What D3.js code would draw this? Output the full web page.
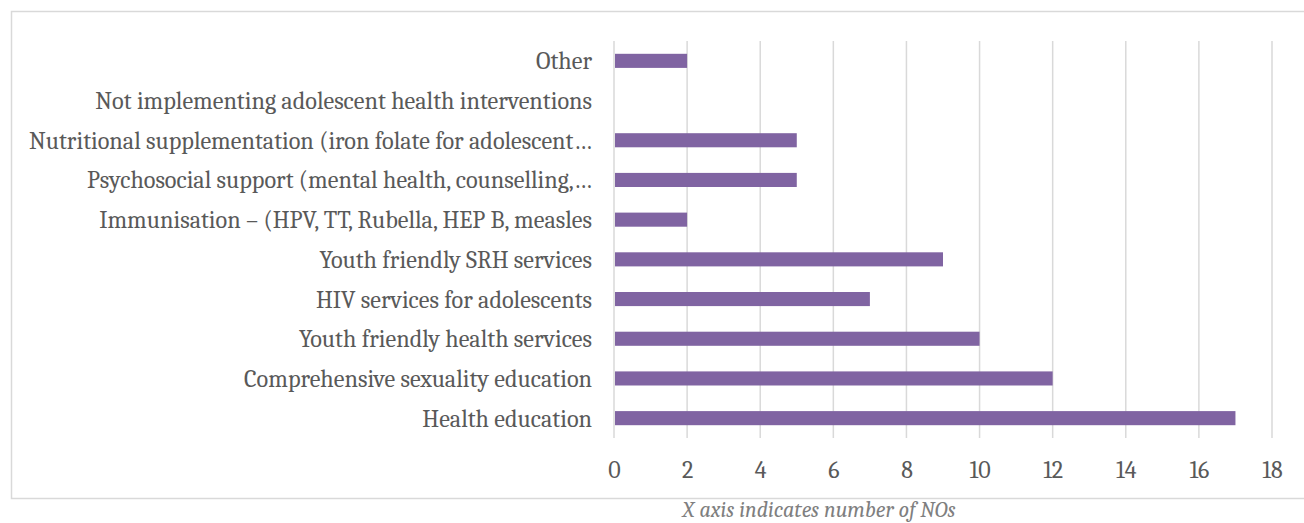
<!DOCTYPE html>
<html>
<head>
<meta charset="utf-8">
<script src="https://cdn.jsdelivr.net/npm/d3@7"></script>
<style>
  html, body { margin: 0; padding: 0; background: #fff; }
  svg { display: block; }
  text { font-family: Cambria, "Liberation Serif", "DejaVu Serif", serif; }
</style>
</head>
<body>
<svg id="chart" width="1304" height="523"></svg>
<script>
// Interventions implemented, listed top to bottom as shown
const categories = [
  "Other",
  "Not implementing adolescent health interventions",
  "Nutritional supplementation (iron folate for adolescent\u2026",
  "Psychosocial support (mental health, counselling,\u2026",
  "Immunisation \u2013 (HPV, TT, Rubella, HEP B, measles",
  "Youth friendly SRH services",
  "HIV services for adolescents",
  "Youth friendly health services",
  "Comprehensive sexuality education",
  "Health education"
];
const counts = [2, 0, 5, 5, 2, 9, 7, 10, 12, 17];
const xTicks = [0, 2, 4, 6, 8, 10, 12, 14, 16, 18];
const caption = "X axis indicates number of NOs";

const svg = d3.select("#chart");

// outer chart frame (open on the right edge)
svg.append("path")
  .attr("d", "M1304,11.5 H11.5 V498.5 H1304")
  .attr("fill", "none")
  .attr("stroke", "#d9d9d9")
  .attr("stroke-width", 1.5);

const x = d3.scaleLinear().domain([0, 18]).range([614, 1272]);
const y = d3.scaleBand().domain(categories).range([41, 438]).paddingInner(0.645).paddingOuter(0.3225);

// vertical gridlines
svg.append("g")
  .selectAll("line")
  .data(xTicks)
  .join("line")
  .attr("x1", d => x(d)).attr("x2", d => x(d))
  .attr("y1", 41).attr("y2", 438)
  .attr("stroke", "#d9d9d9")
  .attr("stroke-width", 1.5);

// bars
svg.append("g")
  .selectAll("rect")
  .data(categories)
  .join("rect")
  .attr("x", x(0) + 1)
  .attr("y", (d) => y(d))
  .attr("height", y.bandwidth())
  .attr("width", (d, i) => Math.max(0, x(counts[i]) - x(0) - 1))
  .attr("fill", "#8064a2");

// category labels
svg.append("g")
  .selectAll("text")
  .data(categories)
  .join("text")
  .attr("x", 592)
  .attr("y", d => y(d) + y.bandwidth() / 2)
  .attr("dy", "0.35em")
  .attr("text-anchor", "end")
  .attr("fill", "#595959")
  .style("font-size", "24.2px")
  .text(d => d);

// x axis tick labels
const xAxis = d3.axisBottom(x).tickValues(xTicks).tickSize(0).tickPadding(0);
const gx = svg.append("g").attr("transform", "translate(0,470)").call(xAxis);
gx.select(".domain").remove();
gx.selectAll("text")
  .attr("dy", "0.35em")
  .attr("y", 0)
  .attr("fill", "#595959")
  .style("font-size", "24px")
  .style("font-family", 'Cambria, "Liberation Serif", "DejaVu Serif", serif');

// caption under the frame
svg.append("text")
  .attr("x", 819)
  .attr("y", 516.5)
  .attr("text-anchor", "middle")
  .attr("fill", "#7f7f7f")
  .style("font-size", "22px")
  .style("font-style", "italic")
  .text(caption);
</script>
</body>
</html>
